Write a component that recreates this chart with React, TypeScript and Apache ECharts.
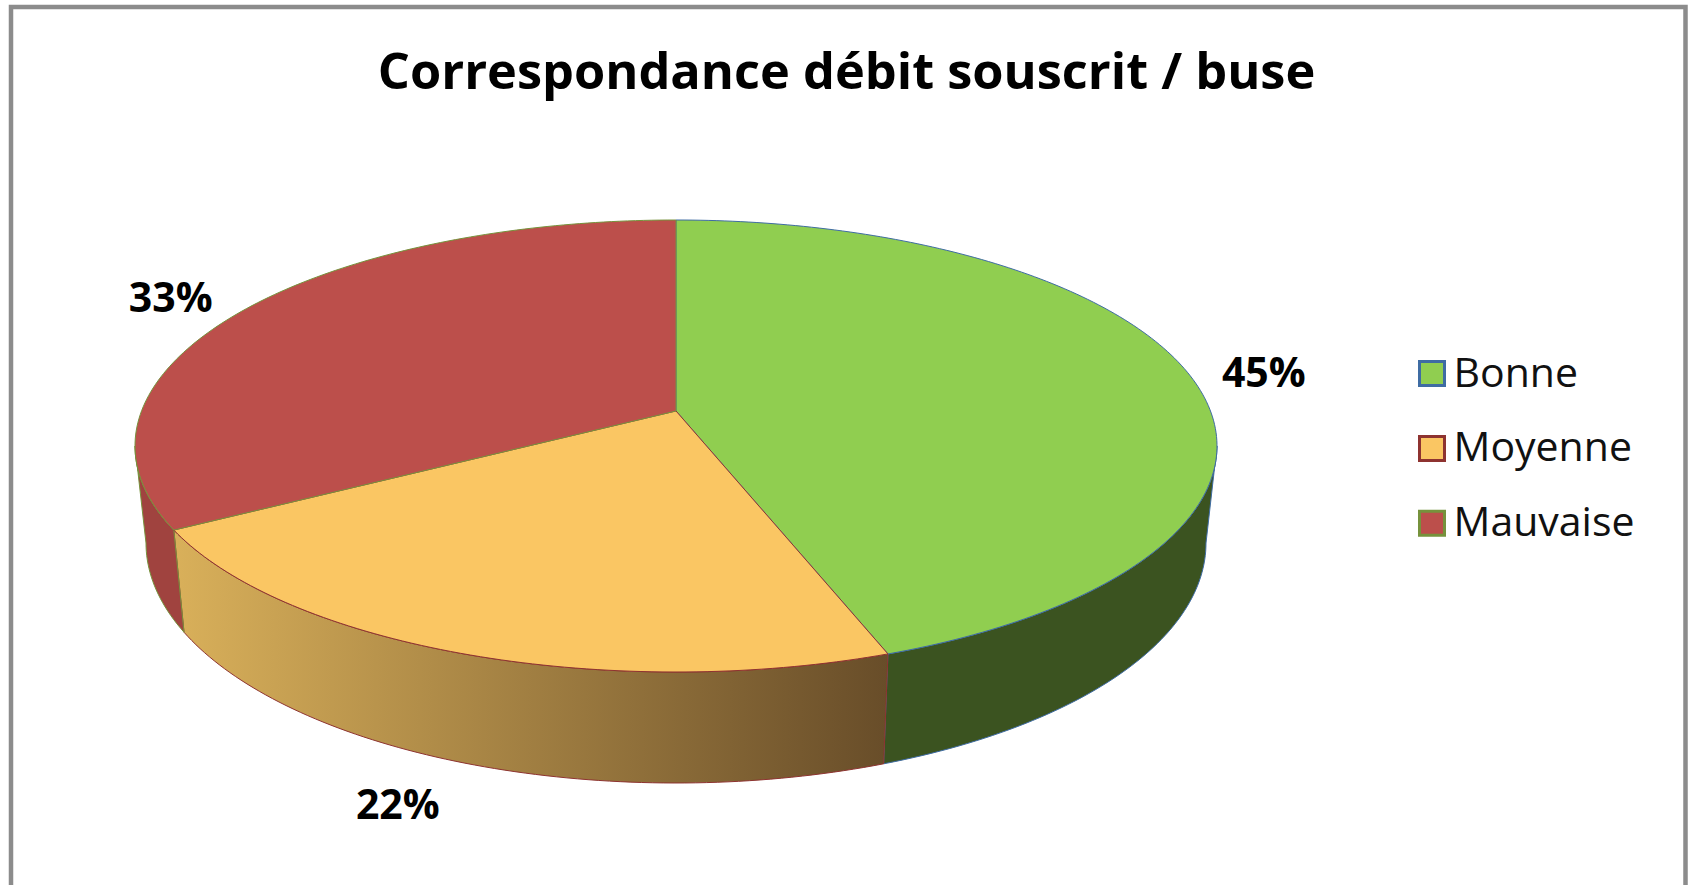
import React, { useEffect, useRef } from "react";
import * as echarts from "echarts";

const TITLE = "Correspondance débit souscrit / buse";
const categories = ["Bonne", "Moyenne", "Mauvaise"];
const values = [44.5, 22.2, 33.3];

const topColors = ["#90CE50", "#FAC663", "#BC4F4B"];
const borderColors = ["#3F6CA3", "#8E3330", "#76923C"];
const wallColors: any[] = [
  "#3B5320",
  new echarts.graphic.LinearGradient(0, 0, 1, 0, [
    { offset: 0, color: "#D9B05A" },
    { offset: 1, color: "#684D29" },
  ]),
  "#A0433F",
];
const labelOffsets = [
  { dx: 75, dy: -3, onBottom: false },
  { dx: -67, dy: 40, onBottom: true },
  { dx: -76, dy: -12, onBottom: false },
];

const CX = 676;
const TOP_FACE = { cy: 446, rx: 541, ry: 226 };
const BOTTOM_FACE = { cy: 543, rx: 530, ry: 240 };
const GAMMA = -0.155;
// Angles where the cylinder's outline leaves the top face: only the wall between them is visible.
const WALL_FROM = (Math.acos(GAMMA) * 180) / Math.PI;
const WALL_TO = 360 - WALL_FROM;

function project(face: { cy: number; rx: number; ry: number }, deg: number) {
  const t = (deg * Math.PI) / 180;
  const x = Math.sin(t);
  const y = -Math.cos(t);
  const d = 1 + GAMMA * y;
  const R = face.rx * Math.sqrt(1 - GAMMA * GAMMA);
  return [CX + (R * x) / d, face.cy + (face.ry * y + face.ry * GAMMA) / d];
}

function arc(face: any, a: number, b: number) {
  const pts: number[][] = [];
  const n = Math.max(2, Math.ceil(b - a));
  for (let i = 0; i <= n; i++) pts.push(project(face, a + ((b - a) * i) / n));
  return pts;
}

const total = values.reduce((s, v) => s + v, 0);

function makeSeries(i: number, startDeg: number): any {
  const endDeg = startDeg + (values[i] / total) * 360;
  return {
    type: "custom",
    name: categories[i],
    coordinateSystem: "none",
    silent: true,
    itemStyle: { color: topColors[i], borderColor: borderColors[i] },
    data: [[values[i]]],
    renderItem: () => {
      const topArc = arc(TOP_FACE, startDeg, endDeg);
      const wallA = Math.max(startDeg, WALL_FROM);
      const wallB = Math.min(endDeg, WALL_TO);
      const wallTop = arc(TOP_FACE, wallA, wallB);
      const wallBottom = arc(BOTTOM_FACE, wallA, wallB);
      const mid = (startDeg + endDeg) / 2;
      const off = labelOffsets[i];
      const anchor = project(off.onBottom ? BOTTOM_FACE : TOP_FACE, mid);
      const apex = [CX, TOP_FACE.cy + TOP_FACE.ry * GAMMA];
      return {
        type: "group",
        children: [
          {
            type: "polygon",
            z2: 1 + i,
            shape: { points: [...wallTop, ...wallBottom.slice().reverse()] },
            style: { fill: wallColors[i], stroke: borderColors[i], lineWidth: 1 },
          },
          {
            type: "polygon",
            z2: 11 + i,
            shape: { points: [apex, ...topArc] },
            style: { fill: topColors[i], stroke: borderColors[i], lineWidth: 1 },
          },
          {
            type: "text",
            z2: 30,
            x: anchor[0] + off.dx,
            y: anchor[1] + off.dy,
            style: {
              text: `${Math.round((values[i] / total) * 100)}%`,
              fontFamily: "'Open Sans'",
              fontWeight: "bold",
              fontSize: 41,
              fill: "#000",
              align: "center",
              verticalAlign: "middle",
            },
          },
        ],
      };
    },
  };
}

export default function App() {
  const ref = useRef<HTMLDivElement>(null);
  useEffect(() => {
    document.body.style.margin = "0";
    const chart = echarts.init(ref.current!, null, { renderer: "svg" });
    let acc = 0;
    const series = values.map((v, i) => {
      const s = makeSeries(i, acc);
      acc += (v / total) * 360;
      return s;
    });
    chart.setOption({
      animation: false,
      backgroundColor: "#fff",
      title: {
        text: TITLE,
        left: 841.5,
        top: 39,
        textAlign: "center",
        textStyle: { fontFamily: "'Open Sans'", fontWeight: "bold", fontSize: 50.5, color: "#000" },
      },
      legend: {
        orient: "vertical",
        left: 1413,
        top: 345,
        itemWidth: 25,
        itemHeight: 24,
        itemGap: 33.9,
        icon: "rect",
        formatter: "{t|{name}}",
        textStyle: {
          fontFamily: "'Open Sans'",
          fontSize: 41,
          color: "#111",
          rich: { t: { fontFamily: "'Open Sans'", fontSize: 41, color: "#111", padding: [0, 0, 6, 4] } },
        },
        data: categories.map((name, i) => ({
          name,
          icon: "rect",
          itemStyle: { color: topColors[i], borderColor: borderColors[i], borderWidth: 3 },
        })),
      },
      graphic: [
        {
          type: "rect",
          z: -1,
          shape: { x: 11, y: 7, width: 1674.5, height: 900 },
          style: { fill: "#fff", stroke: "#8C8C8C", lineWidth: 4.5 },
        },
      ],
      series,
    });
    return () => chart.dispose();
  }, []);
  return <div ref={ref} style={{ width: 1690, height: 885 }} />;
}
